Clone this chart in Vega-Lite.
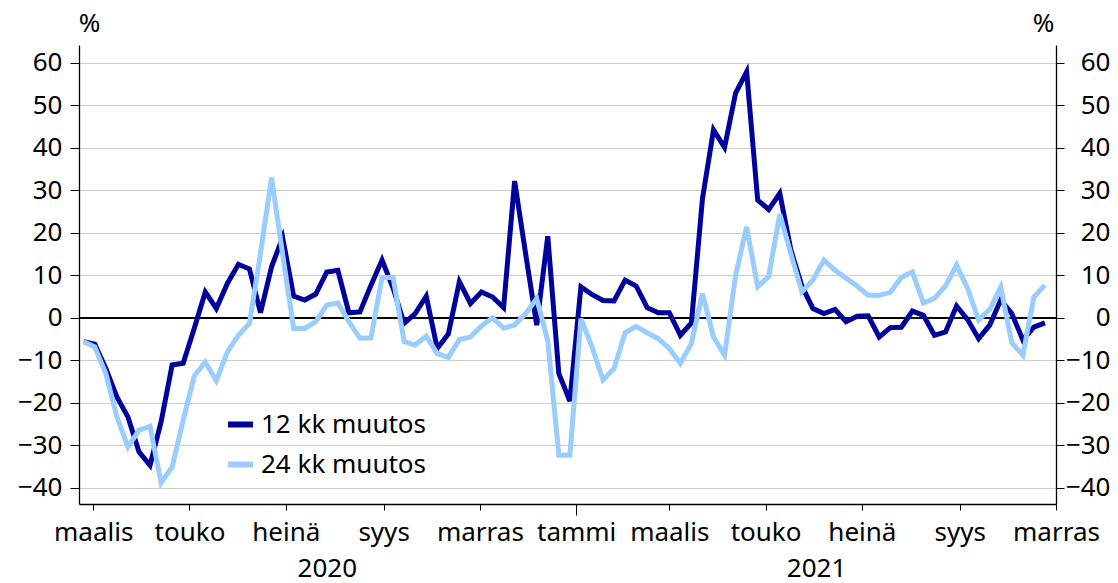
{
  "$schema": "https://vega.github.io/schema/vega-lite/v6.json",
  "width": 977,
  "height": 459,
  "autosize": {"type": "none"},
  "padding": {"left": 79, "top": 45, "right": 62, "bottom": 79},
  "background": "white",
  "config": {
    "font": "Noto Sans",
    "view": {"stroke": null},
    "axis": {"labelFont": "Noto Sans", "titleFont": "Noto Sans", "labelColor": "black", "titleColor": "black"}
  },
  "data": {"values": [
    {"date":"2020-02-24","series":"12 kk muutos","value":-5.6},
    {"date":"2020-03-02","series":"12 kk muutos","value":-6.2},
    {"date":"2020-03-09","series":"12 kk muutos","value":-11.9},
    {"date":"2020-03-16","series":"12 kk muutos","value":-18.6},
    {"date":"2020-03-23","series":"12 kk muutos","value":-23.3},
    {"date":"2020-03-30","series":"12 kk muutos","value":-31.5},
    {"date":"2020-04-06","series":"12 kk muutos","value":-34.7},
    {"date":"2020-04-13","series":"12 kk muutos","value":-24.5},
    {"date":"2020-04-20","series":"12 kk muutos","value":-11.1},
    {"date":"2020-04-27","series":"12 kk muutos","value":-10.7},
    {"date":"2020-05-04","series":"12 kk muutos","value":-2.5},
    {"date":"2020-05-11","series":"12 kk muutos","value":6.1},
    {"date":"2020-05-18","series":"12 kk muutos","value":2.2},
    {"date":"2020-05-25","series":"12 kk muutos","value":8.1},
    {"date":"2020-06-01","series":"12 kk muutos","value":12.6},
    {"date":"2020-06-08","series":"12 kk muutos","value":11.5},
    {"date":"2020-06-15","series":"12 kk muutos","value":1.2},
    {"date":"2020-06-22","series":"12 kk muutos","value":12.0},
    {"date":"2020-06-29","series":"12 kk muutos","value":18.9},
    {"date":"2020-07-06","series":"12 kk muutos","value":5.1},
    {"date":"2020-07-13","series":"12 kk muutos","value":4.2},
    {"date":"2020-07-20","series":"12 kk muutos","value":5.6},
    {"date":"2020-07-27","series":"12 kk muutos","value":10.8},
    {"date":"2020-08-03","series":"12 kk muutos","value":11.2},
    {"date":"2020-08-10","series":"12 kk muutos","value":1.2},
    {"date":"2020-08-17","series":"12 kk muutos","value":1.4},
    {"date":"2020-08-24","series":"12 kk muutos","value":7.7},
    {"date":"2020-08-31","series":"12 kk muutos","value":13.6},
    {"date":"2020-09-07","series":"12 kk muutos","value":7.0},
    {"date":"2020-09-14","series":"12 kk muutos","value":-1.3},
    {"date":"2020-09-21","series":"12 kk muutos","value":1.0},
    {"date":"2020-09-28","series":"12 kk muutos","value":5.1},
    {"date":"2020-10-05","series":"12 kk muutos","value":-7.2},
    {"date":"2020-10-12","series":"12 kk muutos","value":-3.8},
    {"date":"2020-10-19","series":"12 kk muutos","value":8.5},
    {"date":"2020-10-26","series":"12 kk muutos","value":3.4},
    {"date":"2020-11-02","series":"12 kk muutos","value":6.1},
    {"date":"2020-11-09","series":"12 kk muutos","value":4.9},
    {"date":"2020-11-16","series":"12 kk muutos","value":2.4},
    {"date":"2020-11-23","series":"12 kk muutos","value":32.2},
    {"date":"2020-11-30","series":"12 kk muutos","value":15.0},
    {"date":"2020-12-07","series":"12 kk muutos","value":-1.7},
    {"date":"2020-12-14","series":"12 kk muutos","value":19.2},
    {"date":"2020-12-21","series":"12 kk muutos","value":-13.1},
    {"date":"2020-12-28","series":"12 kk muutos","value":-19.6},
    {"date":"2021-01-04","series":"12 kk muutos","value":7.3},
    {"date":"2021-01-11","series":"12 kk muutos","value":5.5},
    {"date":"2021-01-18","series":"12 kk muutos","value":4.1},
    {"date":"2021-01-25","series":"12 kk muutos","value":4.0},
    {"date":"2021-02-01","series":"12 kk muutos","value":8.9},
    {"date":"2021-02-08","series":"12 kk muutos","value":7.5},
    {"date":"2021-02-15","series":"12 kk muutos","value":2.4},
    {"date":"2021-02-22","series":"12 kk muutos","value":1.2},
    {"date":"2021-03-01","series":"12 kk muutos","value":1.2},
    {"date":"2021-03-08","series":"12 kk muutos","value":-4.1},
    {"date":"2021-03-15","series":"12 kk muutos","value":-1.2},
    {"date":"2021-03-22","series":"12 kk muutos","value":28.0},
    {"date":"2021-03-29","series":"12 kk muutos","value":44.2},
    {"date":"2021-04-05","series":"12 kk muutos","value":40.1},
    {"date":"2021-04-12","series":"12 kk muutos","value":52.9},
    {"date":"2021-04-19","series":"12 kk muutos","value":57.9},
    {"date":"2021-04-26","series":"12 kk muutos","value":27.7},
    {"date":"2021-05-03","series":"12 kk muutos","value":25.5},
    {"date":"2021-05-10","series":"12 kk muutos","value":29.3},
    {"date":"2021-05-17","series":"12 kk muutos","value":16.0},
    {"date":"2021-05-24","series":"12 kk muutos","value":7.5},
    {"date":"2021-05-31","series":"12 kk muutos","value":2.2},
    {"date":"2021-06-07","series":"12 kk muutos","value":1.0},
    {"date":"2021-06-14","series":"12 kk muutos","value":2.0},
    {"date":"2021-06-21","series":"12 kk muutos","value":-0.9},
    {"date":"2021-06-28","series":"12 kk muutos","value":0.4},
    {"date":"2021-07-05","series":"12 kk muutos","value":0.5},
    {"date":"2021-07-12","series":"12 kk muutos","value":-4.5},
    {"date":"2021-07-19","series":"12 kk muutos","value":-2.3},
    {"date":"2021-07-26","series":"12 kk muutos","value":-2.2},
    {"date":"2021-08-02","series":"12 kk muutos","value":1.6},
    {"date":"2021-08-09","series":"12 kk muutos","value":0.6},
    {"date":"2021-08-16","series":"12 kk muutos","value":-4.1},
    {"date":"2021-08-23","series":"12 kk muutos","value":-3.3},
    {"date":"2021-08-30","series":"12 kk muutos","value":2.8},
    {"date":"2021-09-06","series":"12 kk muutos","value":-0.4},
    {"date":"2021-09-13","series":"12 kk muutos","value":-4.9},
    {"date":"2021-09-20","series":"12 kk muutos","value":-1.7},
    {"date":"2021-09-27","series":"12 kk muutos","value":4.2},
    {"date":"2021-10-04","series":"12 kk muutos","value":1.0},
    {"date":"2021-10-11","series":"12 kk muutos","value":-5.2},
    {"date":"2021-10-18","series":"12 kk muutos","value":-2.2},
    {"date":"2021-10-25","series":"12 kk muutos","value":-1.2},
    {"date":"2020-02-24","series":"24 kk muutos","value":-5.6},
    {"date":"2020-03-02","series":"24 kk muutos","value":-6.8},
    {"date":"2020-03-09","series":"24 kk muutos","value":-13.1},
    {"date":"2020-03-16","series":"24 kk muutos","value":-23.3},
    {"date":"2020-03-23","series":"24 kk muutos","value":-30.4},
    {"date":"2020-03-30","series":"24 kk muutos","value":-26.4},
    {"date":"2020-04-06","series":"24 kk muutos","value":-25.5},
    {"date":"2020-04-13","series":"24 kk muutos","value":-38.8},
    {"date":"2020-04-20","series":"24 kk muutos","value":-35.1},
    {"date":"2020-04-27","series":"24 kk muutos","value":-24.1},
    {"date":"2020-05-04","series":"24 kk muutos","value":-13.7},
    {"date":"2020-05-11","series":"24 kk muutos","value":-10.4},
    {"date":"2020-05-18","series":"24 kk muutos","value":-14.8},
    {"date":"2020-05-25","series":"24 kk muutos","value":-8.0},
    {"date":"2020-06-01","series":"24 kk muutos","value":-4.1},
    {"date":"2020-06-08","series":"24 kk muutos","value":-1.3},
    {"date":"2020-06-15","series":"24 kk muutos","value":15.2},
    {"date":"2020-06-22","series":"24 kk muutos","value":33.0},
    {"date":"2020-06-29","series":"24 kk muutos","value":15.0},
    {"date":"2020-07-06","series":"24 kk muutos","value":-2.5},
    {"date":"2020-07-13","series":"24 kk muutos","value":-2.5},
    {"date":"2020-07-20","series":"24 kk muutos","value":-0.9},
    {"date":"2020-07-27","series":"24 kk muutos","value":3.0},
    {"date":"2020-08-03","series":"24 kk muutos","value":3.5},
    {"date":"2020-08-10","series":"24 kk muutos","value":-0.9},
    {"date":"2020-08-17","series":"24 kk muutos","value":-4.8},
    {"date":"2020-08-24","series":"24 kk muutos","value":-4.7},
    {"date":"2020-08-31","series":"24 kk muutos","value":9.5},
    {"date":"2020-09-07","series":"24 kk muutos","value":9.5},
    {"date":"2020-09-14","series":"24 kk muutos","value":-5.6},
    {"date":"2020-09-21","series":"24 kk muutos","value":-6.4},
    {"date":"2020-09-28","series":"24 kk muutos","value":-4.3},
    {"date":"2020-10-05","series":"24 kk muutos","value":-8.4},
    {"date":"2020-10-12","series":"24 kk muutos","value":-9.3},
    {"date":"2020-10-19","series":"24 kk muutos","value":-5.1},
    {"date":"2020-10-26","series":"24 kk muutos","value":-4.5},
    {"date":"2020-11-02","series":"24 kk muutos","value":-1.9},
    {"date":"2020-11-09","series":"24 kk muutos","value":0.0},
    {"date":"2020-11-16","series":"24 kk muutos","value":-2.4},
    {"date":"2020-11-23","series":"24 kk muutos","value":-1.7},
    {"date":"2020-11-30","series":"24 kk muutos","value":1.0},
    {"date":"2020-12-07","series":"24 kk muutos","value":4.5},
    {"date":"2020-12-14","series":"24 kk muutos","value":-5.4},
    {"date":"2020-12-21","series":"24 kk muutos","value":-32.3},
    {"date":"2020-12-28","series":"24 kk muutos","value":-32.3},
    {"date":"2021-01-04","series":"24 kk muutos","value":-0.2},
    {"date":"2021-01-11","series":"24 kk muutos","value":-6.8},
    {"date":"2021-01-18","series":"24 kk muutos","value":-14.6},
    {"date":"2021-01-25","series":"24 kk muutos","value":-11.9},
    {"date":"2021-02-01","series":"24 kk muutos","value":-3.5},
    {"date":"2021-02-08","series":"24 kk muutos","value":-2.0},
    {"date":"2021-02-15","series":"24 kk muutos","value":-3.5},
    {"date":"2021-02-22","series":"24 kk muutos","value":-4.9},
    {"date":"2021-03-01","series":"24 kk muutos","value":-7.2},
    {"date":"2021-03-08","series":"24 kk muutos","value":-10.7},
    {"date":"2021-03-15","series":"24 kk muutos","value":-6.0},
    {"date":"2021-03-22","series":"24 kk muutos","value":5.7},
    {"date":"2021-03-29","series":"24 kk muutos","value":-4.5},
    {"date":"2021-04-05","series":"24 kk muutos","value":-8.8},
    {"date":"2021-04-12","series":"24 kk muutos","value":10.0},
    {"date":"2021-04-19","series":"24 kk muutos","value":21.4},
    {"date":"2021-04-26","series":"24 kk muutos","value":7.3},
    {"date":"2021-05-03","series":"24 kk muutos","value":9.8},
    {"date":"2021-05-10","series":"24 kk muutos","value":24.4},
    {"date":"2021-05-17","series":"24 kk muutos","value":15.1},
    {"date":"2021-05-24","series":"24 kk muutos","value":6.1},
    {"date":"2021-05-31","series":"24 kk muutos","value":8.9},
    {"date":"2021-06-07","series":"24 kk muutos","value":13.6},
    {"date":"2021-06-14","series":"24 kk muutos","value":11.2},
    {"date":"2021-06-21","series":"24 kk muutos","value":9.3},
    {"date":"2021-06-28","series":"24 kk muutos","value":7.5},
    {"date":"2021-07-05","series":"24 kk muutos","value":5.3},
    {"date":"2021-07-12","series":"24 kk muutos","value":5.3},
    {"date":"2021-07-19","series":"24 kk muutos","value":6.0},
    {"date":"2021-07-26","series":"24 kk muutos","value":9.5},
    {"date":"2021-08-02","series":"24 kk muutos","value":10.8},
    {"date":"2021-08-09","series":"24 kk muutos","value":3.5},
    {"date":"2021-08-16","series":"24 kk muutos","value":4.6},
    {"date":"2021-08-23","series":"24 kk muutos","value":7.5},
    {"date":"2021-08-30","series":"24 kk muutos","value":12.4},
    {"date":"2021-09-06","series":"24 kk muutos","value":6.9},
    {"date":"2021-09-13","series":"24 kk muutos","value":-0.5},
    {"date":"2021-09-20","series":"24 kk muutos","value":2.0},
    {"date":"2021-09-27","series":"24 kk muutos","value":7.2},
    {"date":"2021-10-04","series":"24 kk muutos","value":-5.9},
    {"date":"2021-10-11","series":"24 kk muutos","value":-8.8},
    {"date":"2021-10-18","series":"24 kk muutos","value":4.9},
    {"date":"2021-10-25","series":"24 kk muutos","value":7.7}
  ]},
  "resolve": {"scale": {"x": "shared", "y": "shared", "color": "shared"}, "axis": {"x": "independent", "y": "independent"}},
  "layer": [
    {
      "mark": {"type": "rule", "color": "black", "strokeWidth": 1.3},
      "encoding": {
        "y": {"datum": 0, "type": "quantitative",
          "scale": {"domain": [-43.8, 64.2], "nice": false, "zero": false},
          "axis": {"orient": "right", "values": [-40, -30, -20, -10, 0, 10, 20, 30, 40, 50, 60],
            "grid": false, "tickSize": 8, "tickColor": "black", "domainColor": "black", "domainWidth": 1.3,
            "labelAlign": "right", "labelPadding": 46, "labelFontSize": 26,
            "title": "%", "titleAngle": 0, "titleX": -13, "titleY": -22, "titleAlign": "center", "titleBaseline": "middle",
            "titleFontSize": 26, "titleFontWeight": "normal"}}
      }
    },
    {
      "transform": [{"filter": "datum.series == '12 kk muutos'"}],
      "mark": {"type": "line", "strokeWidth": 5},
      "encoding": {
        "x": {"field": "date", "type": "temporal",
          "scale": {"type": "utc", "domain": [{"year": 2020, "month": 2, "date": 21, "utc": true}, {"year": 2021, "month": 11, "date": 1, "utc": true}]},
          "axis": {"orient": "bottom", "title": null, "grid": false,
            "values": [
              {"year": 2020, "month": 3, "date": 1, "utc": true},
              {"year": 2020, "month": 5, "date": 1, "utc": true},
              {"year": 2020, "month": 7, "date": 1, "utc": true},
              {"year": 2020, "month": 9, "date": 1, "utc": true},
              {"year": 2020, "month": 11, "date": 1, "utc": true},
              {"year": 2021, "month": 1, "date": 1, "utc": true},
              {"year": 2021, "month": 3, "date": 1, "utc": true},
              {"year": 2021, "month": 5, "date": 1, "utc": true},
              {"year": 2021, "month": 7, "date": 1, "utc": true},
              {"year": 2021, "month": 9, "date": 1, "utc": true},
              {"year": 2021, "month": 11, "date": 1, "utc": true}
            ],
            "labelExpr": "['tammi','helmi','maalis','huhti','touko','kesä','heinä','elo','syys','loka','marras','joulu'][utcmonth(datum.value)]",
            "tickSize": {"condition": {"test": "utcmonth(datum.value) == 0", "value": 11}, "value": 6},
            "labelPadding": {"condition": {"test": "utcmonth(datum.value) == 0", "value": 4}, "value": 9},
            "tickColor": "black", "domainColor": "black", "domainWidth": 1.3,
            "labelFontSize": 26, "labelOverlap": false, "labelFlush": false, "labelBound": false}},
        "y": {"field": "value", "type": "quantitative",
          "axis": {"orient": "left", "values": [-40, -30, -20, -10, 0, 10, 20, 30, 40, 50, 60],
            "grid": true, "gridColor": "#cccccc", "gridWidth": 1,
            "tickSize": 9, "tickColor": "black", "domainColor": "black", "domainWidth": 1.3,
            "labelPadding": 8, "labelFontSize": 26,
            "title": "%", "titleAngle": 0, "titleX": 10, "titleY": -22, "titleAlign": "center", "titleBaseline": "middle",
            "titleFontSize": 26, "titleFontWeight": "normal"}},
        "color": {"field": "series", "type": "nominal",
          "scale": {"domain": ["12 kk muutos", "24 kk muutos"], "range": ["#00009c", "#99ccff"]},
          "legend": {"orient": "none", "legendX": 146, "legendY": 364, "title": null, "padding": 0,
            "symbolType": "stroke", "symbolSize": 625, "symbolStrokeWidth": 6,
            "labelFontSize": 26, "labelFont": "Noto Sans", "labelColor": "black", "labelOffset": 5, "labelLimit": 400, "rowPadding": 11}}
      }
    },
    {
      "transform": [{"filter": "datum.series == '24 kk muutos'"}],
      "mark": {"type": "line", "strokeWidth": 5},
      "encoding": {
        "x": {"field": "date", "type": "temporal",
          "axis": {"orient": "bottom", "title": null, "grid": false, "ticks": false, "tickSize": 0, "domain": false,
            "values": [
              {"year": 2020, "month": 7, "date": 27, "utc": true},
              {"year": 2021, "month": 6, "date": 2, "utc": true}
            ],
            "labelExpr": "'' + utcyear(datum.value)",
            "labelFontSize": 26, "labelPadding": 51, "labelOverlap": false, "labelFlush": false, "labelBound": false}},
        "y": {"field": "value", "type": "quantitative", "axis": null},
        "color": {"field": "series", "type": "nominal"}
      }
    }
  ]
}
